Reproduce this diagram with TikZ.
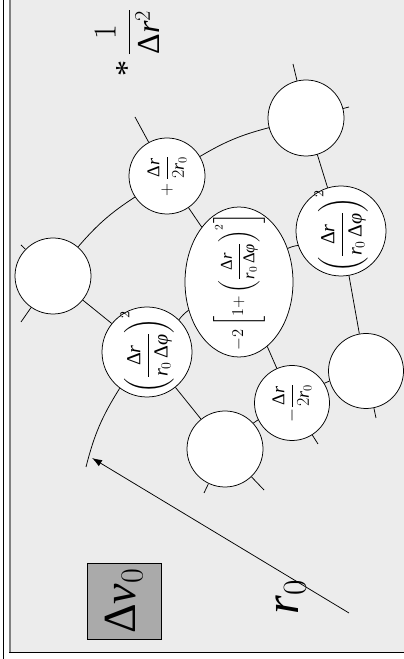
\RequirePackage{fix-cm}
\documentclass[tikz,border=0pt]{standalone}
\usepackage{amsmath}
\usepackage{fontspec}
\setmainfont{Liberation Serif}
\usetikzlibrary{arrows.meta,shapes.geometric}
\definecolor{bgc}{RGB}{236,236,236}
\definecolor{boxc}{RGB}{170,170,170}
\definecolor{shad}{RGB}{128,128,128}
\newcommand{\Dd}{\text{\upshape Δ}}
\newcommand{\ri}{\text{\itshape r}}
\newcommand{\phii}{\text{\itshape φ}}
\newcommand{\nuu}{\text{\itshape ν}}
\newcommand{\ratio}{\dfrac{\Dd\ri}{\ri_0\,\Dd\phii}}
\begin{document}
\begin{tikzpicture}[x=1pt,y=1pt,line width=0.75pt,
  cell/.style={circle,draw,fill=white,minimum size=76pt,inner sep=0pt},
  bigcell/.style={cell,minimum size=90pt},
  formula/.style={rotate=90,inner sep=0pt,font=\fontsize{#1}{24}\selectfont},
  formula/.default=20,
  arcseg/.style={bend left=8}]
\useasboundingbox (0,0) rectangle (404,659);
% frame
\fill[bgc] (10,6.5) rectangle (404,659);
\draw[line width=1pt] (3,0) -- (3,659);
\draw[shad,line width=2pt] (9.5,6.5) -- (9.5,659);
\draw[line width=1pt] (9,6.5) -- (404,6.5);
% cells
\node[cell] (A) at (306,541) {};
\node[cell] (B) at (167,483) {};
\node[cell] (C) at (53,383) {};
\node[bigcell] (D) at (147,307) {};
\node[ellipse,draw,fill=white,minimum width=150pt,minimum height=108pt,inner sep=0pt,rotate=90] (E) at (239,377) {};
\node[bigcell] (F) at (341,428) {};
\node[cell,minimum size=75pt] (G) at (366,288) {};
\node[cell,minimum size=75pt] (H) at (292,256) {};
\node[cell] (I) at (225,210) {};
% free ends
\coordinate (Aout) at (293,595);
\coordinate (Aarc) at (349,552);
\coordinate (Bout) at (135,542);
\coordinate (Cout) at (21,414);
\coordinate (Carc) at (21,337);
\coordinate (Darc) at (86,192);
\coordinate (Iarc) at (204,166);
\coordinate (Iin) at (264,169);
\coordinate (Hin) at (318,215);
\coordinate (Gin) at (376,241);
\coordinate (rtail) at (349,46);
\coordinate (rtip) at (92,201);
% radial lines
\draw (Aout) -- (A);
\draw (A) -- (F);
\draw (F) -- (G);
\draw (G) -- (Gin);
\draw (Bout) -- (B);
\draw (B) -- (E);
\draw (E) -- (H);
\draw (H) -- (Hin);
\draw (Cout) -- (C);
\draw (C) -- (D);
\draw (D) -- (I);
\draw (I) -- (Iin);
% arcs
\draw (Carc) -- (C);
\draw (C) to[arcseg] (B);
\draw (B) to[arcseg] (A);
\draw (A) -- (Aarc);
\draw (Darc) to[bend left=9] (D);
\draw (D) to[arcseg] (E);
\draw (E) to[arcseg] (F);
\draw (Iarc) -- (I);
\draw (I) to[arcseg] (H);
\draw (H) to[arcseg] (G);
% radius arrow
\draw[-{Latex[length=10pt,width=7pt]}] (rtail) -- (rtip);
% formulas
\node[formula=18] (Bt) at (B) {$+\,\dfrac{\Dd\ri}{2\ri_0}$};
\node[formula=18] (Ht) at (H) {$-\dfrac{\Dd\ri}{2\ri_0}$};
\node[formula] (Dt) at (D) {$\left(\ratio\right)^{2}$};
\node[formula] (Ft) at (F) {$\left(\ratio\right)^{2}$};
\node[formula=16.5] (Et) at (E) {$-2\left[1{+}\left(\ratio\right)^{2}\right]$};
\node[rotate=90,inner sep=0pt,font=\fontsize{32}{38}\selectfont] (sc) at (127,616) {$\text{*}\,\dfrac{1}{\Dd\ri^{2}}$};
\node[draw,fill=boxc,rotate=90,minimum width=76pt,minimum height=74pt,inner sep=0pt,font=\fontsize{46}{50}\selectfont] (dv) at (124,58) {$\Dd\nuu_0$};
\node[rotate=90,inner sep=0pt,font=\fontsize{48}{52}\selectfont] (r0) at (291,62) {$\ri_0$};
\end{tikzpicture}
\end{document}
